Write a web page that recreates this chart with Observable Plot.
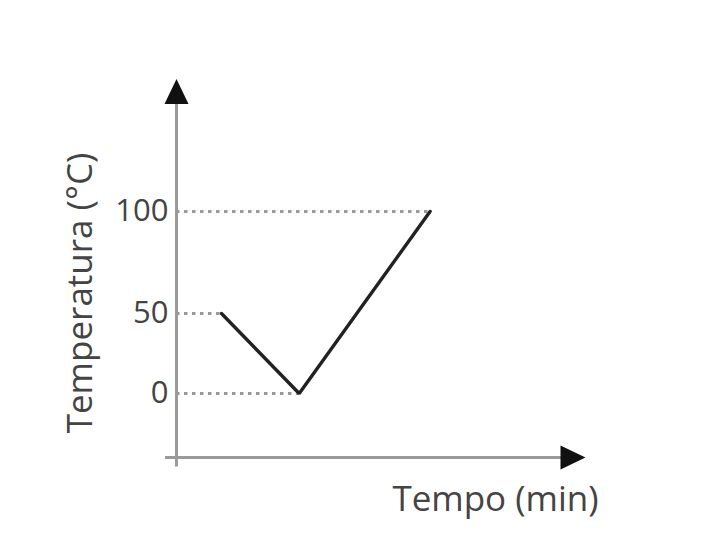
<!DOCTYPE html>
<html>
<head>
<meta charset="utf-8">
<script src="https://cdn.jsdelivr.net/npm/d3@7"></script>
<script src="https://cdn.jsdelivr.net/npm/@observablehq/plot@0.6"></script>
<style>
  html, body { margin: 0; padding: 0; background: #fff; }
  #chart svg { display: block; }
</style>
</head>
<body>
<div id="chart"></div>
<script>
// Data (time in arbitrary minutes, temperature in °C)
const times = [1.1, 3.0, 6.2];
const temps = [50, 0, 100];
const yTicks = [0, 50, 100];
const xLabel = "Tempo (min)";
const yLabel = "Temperatura (°C)";

const points = times.map((t, i) => ({time: t, temp: temps[i]}));

// The original drawing spaces 0–50 more tightly than 50–100: piecewise warp
const warp = v => (v <= 50 ? v * 1.6 : 80 + (v - 50) * 2.04);

// Axis geometry (in data units)
const xAxisY = -40;
const xAxisStart = -0.27, xAxisEnd = 9.44, xArrowTip = 10;
const yAxisBottom = -46, yAxisTop = 153, yArrowTip = 165;

const font = "'Open Sans', 'DejaVu Sans', sans-serif";
const axisColor = "#9a9a9a";
const textColor = "#444";

const triangle = {
  draw(context) {
    context.moveTo(0, 0);
    context.lineTo(12, 25);
    context.lineTo(-12, 25);
    context.closePath();
  }
};

const chart = Plot.plot({
  width: 710,
  height: 559,
  margin: 0,
  style: {fontFamily: font, background: "#fff"},
  x: {domain: [0, 10], range: [176, 585], axis: null},
  y: {transform: warp, domain: [0, 182], range: [393, 211], axis: null},
  marks: [
    // dotted guide lines
    Plot.ruleY(points, {y: "temp", x1: 0, x2: "time", stroke: "#999", strokeWidth: 3, strokeDasharray: "3.5,4.5"}),
    // axes lines
    Plot.ruleX([0], {y1: yAxisBottom, y2: yAxisTop, stroke: axisColor, strokeWidth: 3}),
    Plot.ruleY([xAxisY], {x1: xAxisStart, x2: xAxisEnd, stroke: axisColor, strokeWidth: 3}),
    // arrowheads
    Plot.dot([yArrowTip], {x: 0, y: d => d, symbol: triangle, fill: "#111", stroke: null}),
    Plot.dot([xAxisY], {x: xArrowTip, y: d => d, symbol: triangle, rotate: 90, fill: "#111", stroke: null}),
    // temperature line
    Plot.line(points, {x: "time", y: "temp", stroke: "#222", strokeWidth: 3.4, strokeLinejoin: "miter"}),
    // tick labels
    Plot.text(yTicks, {x: 0, y: d => d, text: d => String(d), textAnchor: "end", dx: -8, fontSize: 31, fill: textColor}),
    // axis labels
    Plot.text([yLabel], {frameAnchor: "left", textAnchor: "middle", lineAnchor: "middle", dx: 80, dy: 13, rotate: -90, fontSize: 35, fill: textColor}),
    Plot.text([xLabel], {frameAnchor: "top-left", textAnchor: "middle", lineAnchor: "middle", dx: 495, dy: 499, fontSize: 35, fill: textColor})
  ]
});

document.getElementById("chart").appendChild(chart);
</script>
</body>
</html>
